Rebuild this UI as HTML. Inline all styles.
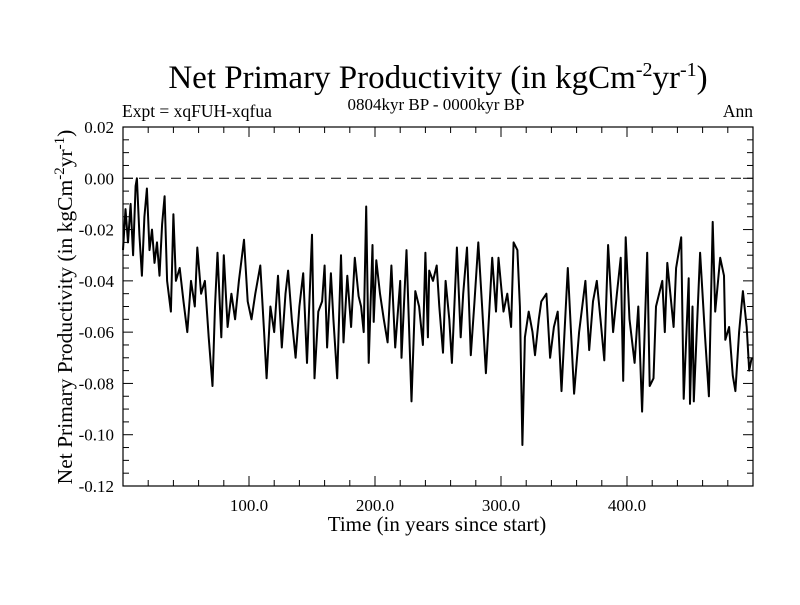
<!DOCTYPE html>
<html><head><meta charset="utf-8"><style>
body{margin:0;background:#fff;width:800px;height:600px;overflow:hidden}
svg{font-family:"Liberation Serif",serif}
</style></head><body>
<svg id="chart" width="800" height="600">
<text x="438" y="88" font-size="33" text-anchor="middle">Net Primary Productivity (in kgCm<tspan dy="-12" font-size="20">-2</tspan><tspan dy="12">yr</tspan><tspan dy="-12" font-size="20">-1</tspan><tspan dy="12">)</tspan></text>
<text x="122" y="117" font-size="17.5">Expt = xqFUH-xqfua</text>
<text x="436" y="110" font-size="17" text-anchor="middle">0804kyr BP - 0000kyr BP</text>
<text x="753" y="117" font-size="17.5" text-anchor="end">Ann</text>
<text x="437" y="531" font-size="21" text-anchor="middle">Time (in years since start)</text>
<text transform="translate(72,307) rotate(-90)" font-size="21.5" text-anchor="middle">Net Primary Productivity (in kgCm<tspan dy="-8" font-size="15">-2</tspan><tspan dy="8">yr</tspan><tspan dy="-8" font-size="15">-1</tspan><tspan dy="8">)</tspan></text>
<g id="axes"></g>
<line id="zero" stroke="#000" stroke-width="1" stroke-dasharray="10,6"/>
<path id="series" fill="none" stroke="#000" stroke-width="2" stroke-linejoin="round"/>
<rect id="frame" fill="none" stroke="#000" stroke-width="1.2"/>
</svg>
<script>
const years=[0,2,4,6,8,10,11,13,15,17,19,21,23,25,27,29,31,33,35,38,40,42,45,48,51,54,57,59,62,65,68,71,73,75,78,80,83,86,89,92,96,99,102,105,109,112,114,117,120,123,126,129,131,134,137,140,143,146,150,152,155,158,160,162,165,167,170,173,175,178,181,184,187,189,191,193,195,198,199,201,204,207,210,213,216,220,221,225,229,232,235,238,240,242,243,246,249,251,254,256,259,261,265,268,270,273,276,279,282,285,288,293,296,298,302,305,308,310,313,315,317,319,322,325,327,330,332,336,339,342,345,348,353,358,362,367,370,373,376,379,382,385,389,392,395,397,399,402,406,409,412,416,418,421,423,428,430,432,437,439,443,445,449,450,452,453,458,462,465,468,470,474,477,478,481,484,486,489,492,495,497,499];
const npp=[-0.028,-0.012,-0.025,-0.010,-0.030,-0.003,0.000,-0.022,-0.038,-0.015,-0.004,-0.028,-0.020,-0.033,-0.025,-0.038,-0.018,-0.007,-0.040,-0.052,-0.014,-0.040,-0.035,-0.048,-0.060,-0.040,-0.050,-0.027,-0.045,-0.040,-0.062,-0.081,-0.050,-0.029,-0.062,-0.030,-0.058,-0.045,-0.055,-0.040,-0.024,-0.048,-0.055,-0.045,-0.034,-0.060,-0.078,-0.050,-0.060,-0.038,-0.066,-0.045,-0.036,-0.055,-0.070,-0.050,-0.037,-0.072,-0.022,-0.078,-0.052,-0.048,-0.034,-0.066,-0.037,-0.055,-0.078,-0.030,-0.064,-0.038,-0.058,-0.031,-0.046,-0.050,-0.060,-0.011,-0.072,-0.026,-0.056,-0.032,-0.045,-0.055,-0.064,-0.034,-0.066,-0.040,-0.070,-0.028,-0.087,-0.044,-0.050,-0.065,-0.029,-0.062,-0.036,-0.040,-0.034,-0.050,-0.068,-0.040,-0.055,-0.072,-0.027,-0.062,-0.045,-0.027,-0.069,-0.048,-0.025,-0.050,-0.076,-0.031,-0.052,-0.031,-0.052,-0.045,-0.058,-0.025,-0.028,-0.050,-0.104,-0.062,-0.052,-0.060,-0.069,-0.055,-0.048,-0.045,-0.070,-0.058,-0.052,-0.083,-0.035,-0.084,-0.060,-0.040,-0.067,-0.048,-0.040,-0.055,-0.071,-0.026,-0.060,-0.045,-0.031,-0.079,-0.023,-0.055,-0.072,-0.050,-0.091,-0.029,-0.081,-0.078,-0.050,-0.040,-0.060,-0.033,-0.058,-0.035,-0.023,-0.086,-0.039,-0.088,-0.050,-0.087,-0.029,-0.062,-0.085,-0.017,-0.052,-0.031,-0.038,-0.063,-0.058,-0.077,-0.083,-0.060,-0.044,-0.058,-0.075,-0.070];
const yTicks=[0.02,0.00,-0.02,-0.04,-0.06,-0.08,-0.10,-0.12];
const yTickLabels=["0.02","0.00","-0.02","-0.04","-0.06","-0.08","-0.10","-0.12"];
const xTicks=[100,200,300,400];
const xTickLabels=["100.0","200.0","300.0","400.0"];
const L=123,R=753,T=127,B=486,X0=0,X1=500,Y0=-0.12,Y1=0.02;
const sx=v=>L+(v-X0)/(X1-X0)*(R-L);
const sy=v=>B-(v-Y0)/(Y1-Y0)*(B-T);
const NS="http://www.w3.org/2000/svg";
const ax=document.getElementById('axes');
function ln(x1,y1,x2,y2,name){const l=document.createElementNS(NS,'line');l.setAttribute('x1',x1);l.setAttribute('y1',y1);l.setAttribute('x2',x2);l.setAttribute('y2',y2);l.setAttribute('stroke','#000');l.setAttribute('stroke-width','1');


ax.appendChild(l);}
function tx(x,y,s,anchor,name){const t=document.createElementNS(NS,'text');t.setAttribute('x',x);t.setAttribute('y',y);t.setAttribute('font-size','17');t.setAttribute('text-anchor',anchor);t.textContent=s;


ax.appendChild(t);}
for(let v=Y0;v<=Y1+1e-9;v+=0.005){const y=sy(v);const major=Math.abs(Math.round(v/0.02)*0.02-v)<1e-6;const len=major?10:6;ln(L,y,L+len,y,'y-tick');ln(R,y,R-len,y,'y-tick-right');}
yTicks.forEach((v,i)=>tx(L-9,sy(v)+6,yTickLabels[i],'end','y-tick-label'));
for(let v=20;v<X1;v+=20){const x=sx(v);const major=v%100===0;const len=major?10:6;ln(x,B,x,B-len,'x-tick');ln(x,T,x,T+len,'x-tick-top');}
xTicks.forEach((v,i)=>tx(sx(v),B+25,xTickLabels[i],'middle','x-tick-label'));
const z=document.getElementById('zero');z.setAttribute('x1',L);z.setAttribute('x2',R);z.setAttribute('y1',sy(0));z.setAttribute('y2',sy(0));
document.getElementById('series').setAttribute('d',years.map((y,i)=>(i?'L':'M')+sx(y).toFixed(1)+','+sy(npp[i]).toFixed(1)).join(''));
const f=document.getElementById('frame');f.setAttribute('x',L);f.setAttribute('y',T);f.setAttribute('width',R-L);f.setAttribute('height',B-T);
</script>
</body></html>
